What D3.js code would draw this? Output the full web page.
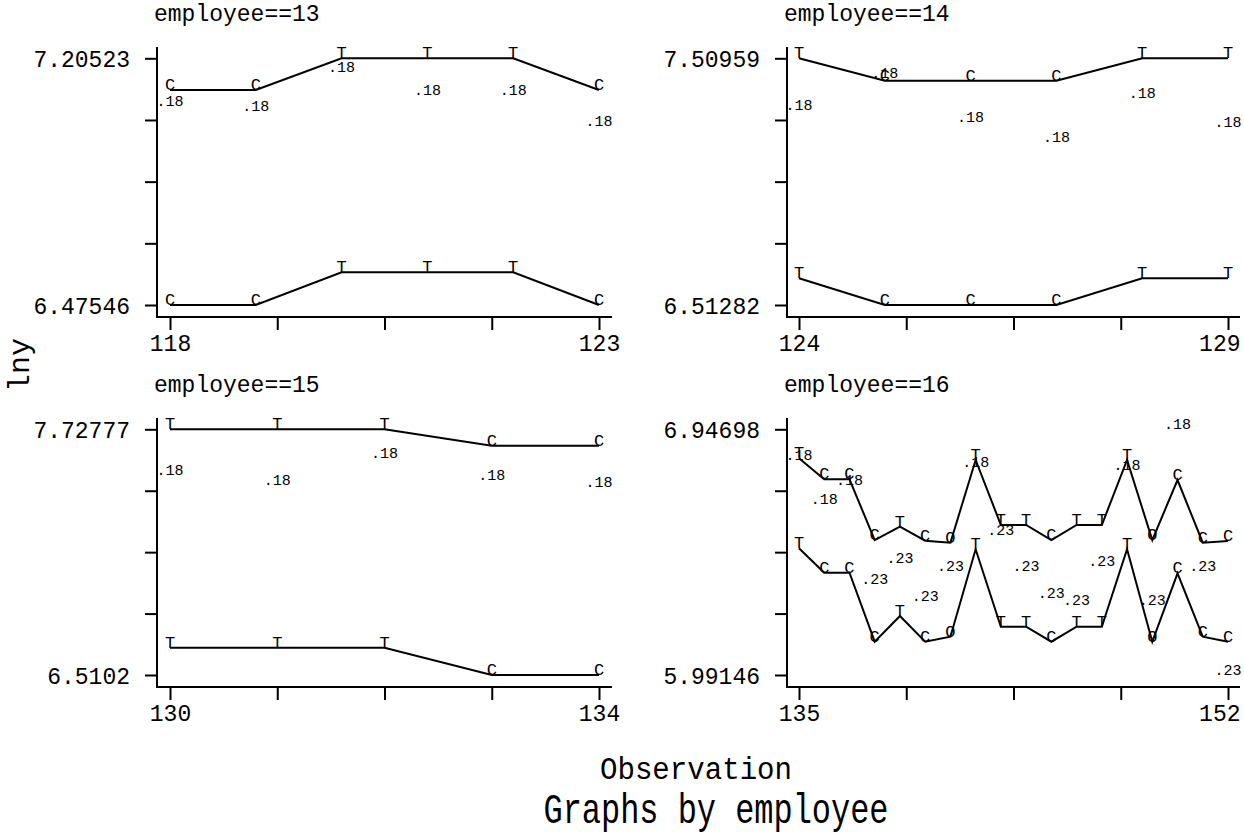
<!DOCTYPE html>
<html>
<head>
<meta charset="utf-8">
<script src="https://cdn.jsdelivr.net/npm/d3@7"></script>
<style>
  body { margin: 0; background: #fff; }
  svg text { font-family: "Liberation Mono", "DejaVu Sans Mono", monospace; fill: #000; }
</style>
</head>
<body>
<div id="chart"></div>
<script>
// panel titles and y-axis end labels
const panelTitles = ["employee==13", "employee==14", "employee==15", "employee==16"];
const yEndLabels = [["6.47546", "7.20523"], ["6.51282", "7.50959"], ["6.5102", "7.72777"], ["5.99146", "6.94698"]];

// employee 13
const obs13 = [118, 119, 120, 121, 122, 123];
const upper13 = [7.1114, 7.1114, 7.20523, 7.20523, 7.20523, 7.1114];
const lower13 = [6.47546, 6.47546, 6.5722, 6.5722, 6.5722, 6.47546];
const marks13 = ["C", "C", "T", "T", "T", "C"];
const rate13 = [7.0656, 7.0487, 7.1641, 7.0952, 7.0981, 7.0043];
const rateText13 = [".18", ".18", ".18", ".18", ".18", ".18"];

// employee 14
const obs14 = [124, 125, 126, 127, 128, 129];
const upper14 = [7.50959, 7.4191, 7.4191, 7.4191, 7.50959, 7.50959];
const lower14 = [6.6207, 6.51282, 6.51282, 6.51282, 6.6207, 6.6207];
const marks14 = ["T", "C", "C", "C", "T", "T"];
const rate14 = [7.2987, 7.4308, 7.2530, 7.1722, 7.3500, 7.2328];
const rateText14 = [".18", ".18", ".18", ".18", ".18", ".18"];

// employee 15
const obs15 = [130, 131, 132, 133, 134];
const upper15 = [7.72777, 7.72777, 7.72777, 7.6465, 7.6465];
const lower15 = [6.6455, 6.6455, 6.6455, 6.5102, 6.5102];
const marks15 = ["T", "T", "T", "C", "C"];
const rate15 = [7.5003, 7.4493, 7.5866, 7.4790, 7.4409];
const rateText15 = [".18", ".18", ".18", ".18", ".18"];

// employee 16
const obs16 = [135, 136, 137, 138, 139, 140, 141, 142, 143, 144, 145, 146, 147, 148, 149, 150, 151, 152];
const upper16 = [6.8342, 6.7525, 6.7525, 6.5164, 6.5682, 6.5137, 6.5059, 6.8276, 6.5748,
                 6.5748, 6.5164, 6.5748, 6.5748, 6.8276, 6.5164, 6.7498, 6.5059, 6.5125];
const lower16 = [6.4841, 6.3892, 6.3892, 6.1209, 6.2208, 6.1209, 6.1403, 6.4803, 6.1792,
                 6.1792, 6.1209, 6.1792, 6.1792, 6.4803, 6.1209, 6.3869, 6.1403, 6.1209];
const marks16 = ["T", "C", "C", "C", "T", "C", "O", "T", "T", "T", "C", "T", "T", "T", "O", "C", "C", "C"];
const rate16 = [6.8295, 6.6584, 6.7323, 6.3461, 6.4277, 6.2811, 6.3978, 6.7996, 6.5378,
                6.3978, 6.2916, 6.2628, 6.4145, 6.7906, 6.2656, 6.94698, 6.3978, 5.9905];
const rateText16 = [".18", ".18", ".18", ".23", ".23", ".23", ".23", ".18", ".23",
                    ".23", ".23", ".23", ".23", ".18", ".23", ".18", ".23", ".23"];

const panels = [
    { obs: obs13, upper: upper13, lower: lower13, marks: marks13, rate: rate13, rateText: rateText13 },
    { obs: obs14, upper: upper14, lower: lower14, marks: marks14, rate: rate14, rateText: rateText14 },
    { obs: obs15, upper: upper15, lower: lower15, marks: marks15, rate: rate15, rateText: rateText15 },
    { obs: obs16, upper: upper16, lower: lower16, marks: marks16, rate: rate16, rateText: rateText16 }
];

const width = 1244, height = 836;

// column / row geometry of the 2x2 grid
const cols = [{ axis: 157, x0: 170, x1: 599, right: 612 }, { axis: 787, x0: 799, x1: 1228, right: 1240 }];
const rows = [{ top: 47, y0: 305, y1: 58.3, base: 317 }, { top: 418, y0: 675, y1: 429.3, base: 687 }];

const svg = d3.select("#chart").append("svg")
    .attr("width", width)
    .attr("height", height);

panels.forEach((p, i) => {
    const c = cols[i % 2], r = rows[Math.floor(i / 2)];
    const ends = yEndLabels[i];
    const yMin = +ends[0], yMax = +ends[1];
    const first = p.obs[0], last = p.obs[p.obs.length - 1];

    const x = d3.scaleLinear().domain([first, last]).range([c.x0, c.x1]);
    const y = d3.scaleLinear().domain([yMin, yMax]).range([r.y0, r.y1]);

    const xTicks = d3.range(5).map(k => first + k * (last - first) / 4);
    const yTicks = d3.range(5).map(k => yMin + k * (yMax - yMin) / 4);

    const g = svg.append("g");

    // y axis
    const ya = g.append("g")
        .attr("transform", `translate(${c.axis},0)`)
        .call(d3.axisLeft(y).tickValues(yTicks).tickSize(12).tickPadding(15)
            .tickFormat((d, k) => k === 0 ? ends[0] : k === 4 ? ends[1] : ""));
    ya.select(".domain").remove();
    ya.selectAll("line").attr("stroke-width", 2);
    ya.selectAll("text").attr("font-family", null).attr("font-size", 23).attr("dy", "0.36em");

    // x axis
    const xa = g.append("g")
        .attr("transform", `translate(0,${r.base})`)
        .call(d3.axisBottom(x).tickValues(xTicks).tickSize(13).tickPadding(5)
            .tickFormat((d, k) => k === 0 ? first : k === 4 ? last : ""));
    xa.select(".domain").remove();
    xa.selectAll("line").attr("stroke-width", 2);
    xa.selectAll("text").attr("font-family", null).attr("font-size", 23);
    // keep the last label inside the page on the right column
    if (i % 2 === 1) {
        xa.selectAll(".tick").filter((d, k) => k === 4).select("text")
            .attr("text-anchor", "end")
            .attr("x", c.right - x(last));
    }

    // frame lines (left and bottom)
    g.append("path")
        .attr("d", `M${c.axis},${r.top}V${r.base}H${c.right}`)
        .attr("fill", "none")
        .attr("stroke", "#000")
        .attr("stroke-width", 2);

    // panel title
    g.append("text")
        .attr("x", c.axis - 3)
        .attr("y", r.top - 26)
        .attr("font-size", 23)
        .text(panelTitles[i]);

    // the two connected series
    const line = d3.line().x((d, k) => x(p.obs[k])).y(d => y(d));
    [p.upper, p.lower].forEach(series => {
        g.append("path")
            .datum(series)
            .attr("d", line)
            .attr("fill", "none")
            .attr("stroke", "#000")
            .attr("stroke-width", 2);

        g.selectAll(null)
            .data(series)
            .enter().append("text")
            .attr("x", (d, k) => x(p.obs[k]))
            .attr("y", d => y(d))
            .attr("text-anchor", "middle")
            .attr("font-size", 17)
            .text((d, k) => p.marks[k]);
    });

    // value labels
    g.selectAll(null)
        .data(p.rate)
        .enter().append("text")
        .attr("x", (d, k) => x(p.obs[k]))
        .attr("y", d => y(d))
        .attr("text-anchor", "middle")
        .attr("font-size", 15)
        .text((d, k) => p.rateText[k]);
});

// shared axis titles
svg.append("text")
    .attr("transform", "translate(29,365) rotate(-90)")
    .attr("text-anchor", "middle")
    .attr("font-size", 30)
    .text("lny");

svg.append("text")
    .attr("x", 696)
    .attr("y", 779)
    .attr("text-anchor", "middle")
    .attr("font-size", 31)
    .attr("textLength", 192)
    .attr("lengthAdjust", "spacingAndGlyphs")
    .text("Observation");

svg.append("text")
    .attr("x", 716)
    .attr("y", 823)
    .attr("text-anchor", "middle")
    .attr("font-size", 42)
    .attr("textLength", 345)
    .attr("lengthAdjust", "spacingAndGlyphs")
    .text("Graphs by employee");
</script>
</body>
</html>
